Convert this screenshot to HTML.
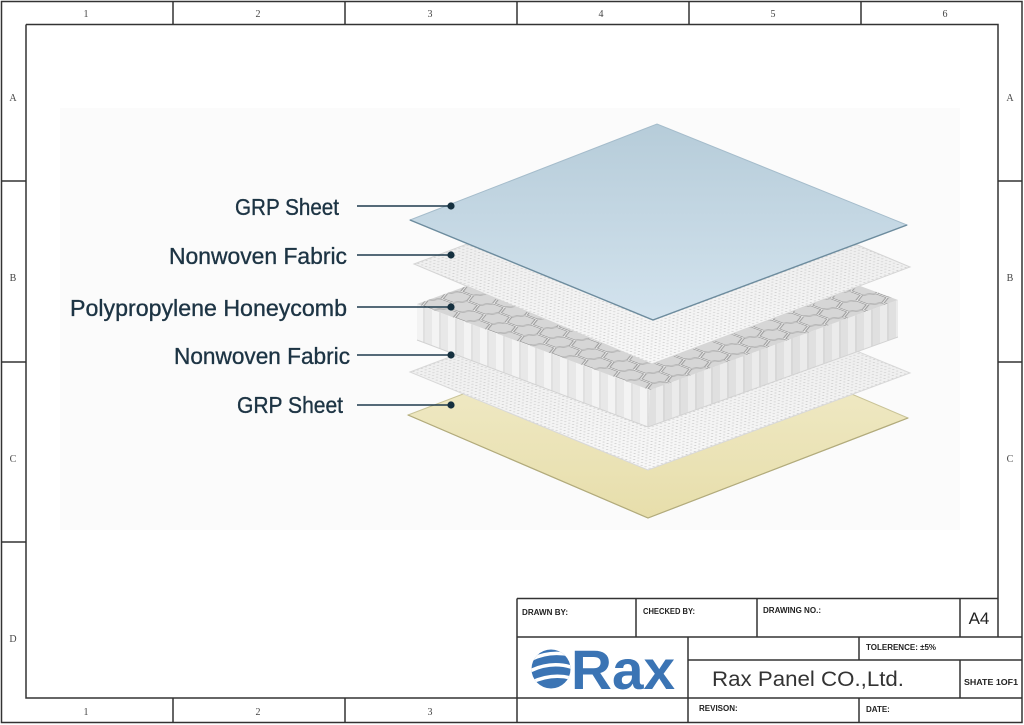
<!DOCTYPE html>
<html><head><meta charset="utf-8"><style>
html,body{margin:0;padding:0;background:#fff;}
svg{display:block;}
.sf{font-family:"Liberation Serif",serif;font-size:10px;fill:#444;}
.tb{font-family:"Liberation Sans",sans-serif;font-size:8px;font-weight:bold;fill:#222;}
.lb{font-family:"Liberation Sans",sans-serif;font-size:23px;fill:#1d3444;stroke:#1d3444;stroke-width:0.35;}
</style></head><body>
<svg width="1024" height="725" viewBox="0 0 1024 725" xmlns="http://www.w3.org/2000/svg">
<defs>
  <linearGradient id="gBlue" x1="0" y1="0" x2="0" y2="1">
    <stop offset="0" stop-color="#b6ccd9"/>
    <stop offset="1" stop-color="#d3e3ee"/>
  </linearGradient>
  <linearGradient id="gYel" x1="0" y1="0" x2="0" y2="1">
    <stop offset="0" stop-color="#f3eed0"/>
    <stop offset="1" stop-color="#e7deab"/>
  </linearGradient>
  <linearGradient id="gNw" x1="0" y1="0" x2="0" y2="1">
    <stop offset="0" stop-color="#e8e8e8"/>
    <stop offset="1" stop-color="#f8f8f8"/>
  </linearGradient>
  <pattern id="dots" width="4" height="4" patternUnits="userSpaceOnUse" patternTransform="matrix(0.97,0.36,1.03,-0.38,0,0)">
    <circle cx="2" cy="2" r="0.9" fill="#d2d2d2"/>
  </pattern>
  <pattern id="hex" width="33" height="19.053" patternUnits="userSpaceOnUse" patternTransform="matrix(0.971,0.358,1.033,-0.375,417,304)">
    <rect width="33" height="19.053" fill="#f2f2f2"/>
    <g fill="#d6d6d6" stroke="#999" stroke-width="0.9">
      <polygon transform="translate(11,9.526)" points="10,0 5,8.66 -5,8.66 -10,0 -5,-8.66 5,-8.66"/>
      <polygon transform="translate(27.5,0)" points="10,0 5,8.66 -5,8.66 -10,0 -5,-8.66 5,-8.66"/>
      <polygon transform="translate(27.5,19.053)" points="10,0 5,8.66 -5,8.66 -10,0 -5,-8.66 5,-8.66"/>
      <polygon transform="translate(-5.5,0)" points="10,0 5,8.66 -5,8.66 -10,0 -5,-8.66 5,-8.66"/>
      <polygon transform="translate(-5.5,19.053)" points="10,0 5,8.66 -5,8.66 -10,0 -5,-8.66 5,-8.66"/>
    </g>
  </pattern>
  <pattern id="side" width="16" height="10" patternUnits="userSpaceOnUse">
    <rect width="8" height="10" fill="#f3f3f3"/>
    <rect x="8" width="8" height="10" fill="#e8e8e8"/>
    <rect x="7.5" width="0.8" height="10" fill="#cdcdcd"/>
  </pattern>
  <clipPath id="globe"><circle cx="551" cy="669" r="19.5"/></clipPath>
</defs>

<rect width="1024" height="725" fill="#fff"/>
<rect x="60" y="108" width="900" height="422" fill="#fbfbfb"/>

<!-- Frame -->
<g stroke="#333" stroke-width="1.5" fill="none">
  <rect x="1.5" y="1.5" width="1020.5" height="721"/>
  <path d="M26,24.5 H998 V637"/>
  <path d="M26,24.5 V698 H1022"/>
  <path d="M173,1.5 V24.5 M345,1.5 V24.5 M517,1.5 V24.5 M689,1.5 V24.5 M861,1.5 V24.5"/>
  <path d="M173,698 V722 M345,698 V722"/>
  <path d="M1.5,181 H26 M1.5,362 H26 M1.5,542 H26"/>
  <path d="M998,181 H1022 M998,362 H1022"/>
  <path d="M517,598.5 H998 M517,598.5 V722"/>
  <path d="M636,598.5 V637 M757,598.5 V637 M960,598.5 V637"/>
  <path d="M517,637 H1022"/>
  <path d="M688,637 V722"/>
  <path d="M688,660 H1022"/>
  <path d="M859,637 V660 M859,698 V722"/>
  <path d="M960,660 V698"/>
</g>

<!-- frame labels -->
<g class="sf" text-anchor="middle">
  <text x="86" y="17">1</text><text x="258" y="17">2</text><text x="430" y="17">3</text>
  <text x="601" y="17">4</text><text x="773" y="17">5</text><text x="945" y="17">6</text>
  <text x="86" y="715">1</text><text x="258" y="715">2</text><text x="430" y="715">3</text>
  <text x="13" y="101">A</text><text x="13" y="281">B</text><text x="13" y="462">C</text><text x="13" y="642">D</text>
  <text x="1010" y="101">A</text><text x="1010" y="281">B</text><text x="1010" y="462">C</text>
</g>

<!-- title block text -->
<text class="tb" x="522" y="615" textLength="46" lengthAdjust="spacingAndGlyphs">DRAWN BY:</text>
<text class="tb" x="643" y="614" textLength="52" lengthAdjust="spacingAndGlyphs">CHECKED BY:</text>
<text class="tb" x="763" y="613" textLength="58" lengthAdjust="spacingAndGlyphs">DRAWING NO.:</text>
<text x="979" y="624" text-anchor="middle" font-family="Liberation Sans, sans-serif" font-size="17" fill="#222">A4</text>
<text class="tb" x="866" y="650">TOLERENCE:  ±5%</text>
<text x="712" y="686" font-family="Liberation Sans, sans-serif" font-size="21" fill="#333" textLength="192" lengthAdjust="spacingAndGlyphs">Rax Panel CO.,Ltd.</text>
<text class="tb" x="964" y="685" textLength="54" lengthAdjust="spacingAndGlyphs">SHATE 1OF1</text>
<text class="tb" x="699" y="711">REVISON:</text>
<text class="tb" x="866" y="712">DATE:</text>

<!-- logo -->
<circle cx="551" cy="669" r="19.5" fill="#3b74b4"/>
<g clip-path="url(#globe)" stroke="#fff" stroke-width="3.5" fill="none">
  <path d="M528,661 Q550,649 574,656"/>
  <path d="M528,672 Q551,660 574,668"/>
  <path d="M530,683 Q553,672 574,679"/>
</g>
<text x="571" y="689" font-family="Liberation Sans, sans-serif" font-weight="bold" font-size="56" fill="#3b74b4" textLength="104" lengthAdjust="spacingAndGlyphs">Rax</text>

<!-- Bottom GRP (yellow) -->
<polygon points="408,415 668,316 908,418 648,518" fill="url(#gYel)" stroke="#c9c397" stroke-width="1"/>
<polyline points="408,415 648,518 908,418" fill="none" stroke="#b2ab7c" stroke-width="1.2"/>

<!-- Bottom nonwoven -->
<polygon points="410,372 670,274 910,373 648,470" fill="url(#gNw)"/>
<polygon points="410,372 670,274 910,373 648,470" fill="url(#dots)" stroke="#d8d8d8" stroke-width="1"/>

<!-- Honeycomb -->
<polygon points="417,304 650,390 648,427 417,340" fill="url(#side)"/>
<polygon points="650,390 898,300 898,337 648,427" fill="url(#side)"/>
<polygon points="650,390 898,300 898,337 648,427" fill="#000" opacity="0.03"/>
<polygon points="417,304 650,390 898,300 665,214" fill="url(#hex)"/>
<polyline points="417,340 648,427 898,337" fill="none" stroke="#d2d2d2" stroke-width="1"/>

<!-- Top nonwoven -->
<polygon points="414,264 672,167 910,267 652,364" fill="url(#gNw)"/>
<polygon points="414,264 672,167 910,267 652,364" fill="url(#dots)" stroke="#d5d5d5" stroke-width="1"/>

<!-- Top GRP (blue) -->
<polygon points="410,220 657,124 907,225 653,320" fill="url(#gBlue)" stroke="#a5bccb" stroke-width="1"/>
<polyline points="410,220 653,320 907,225" fill="none" stroke="#6d8c9e" stroke-width="1.4"/>

<!-- leaders -->
<g stroke="#1e3b4d" stroke-width="1.6">
  <line x1="357" y1="206" x2="451" y2="206"/>
  <line x1="357" y1="255" x2="451" y2="255"/>
  <line x1="357" y1="307" x2="451" y2="307"/>
  <line x1="357" y1="355" x2="451" y2="355"/>
  <line x1="357" y1="405" x2="451" y2="405"/>
</g>
<g fill="#15303f">
  <circle cx="451" cy="206" r="3.6"/>
  <circle cx="451" cy="255" r="3.6"/>
  <circle cx="451" cy="307" r="3.6"/>
  <circle cx="451" cy="355" r="3.6"/>
  <circle cx="451" cy="405" r="3.6"/>
</g>

<!-- labels -->
<text class="lb" x="235" y="215" textLength="104" lengthAdjust="spacingAndGlyphs">GRP Sheet</text>
<text class="lb" x="169" y="264" textLength="178" lengthAdjust="spacingAndGlyphs">Nonwoven Fabric</text>
<text class="lb" x="70" y="316" textLength="277" lengthAdjust="spacingAndGlyphs">Polypropylene Honeycomb</text>
<text class="lb" x="174" y="364" textLength="176" lengthAdjust="spacingAndGlyphs">Nonwoven Fabric</text>
<text class="lb" x="237" y="413" textLength="106" lengthAdjust="spacingAndGlyphs">GRP Sheet</text>
</svg>
</body></html>
